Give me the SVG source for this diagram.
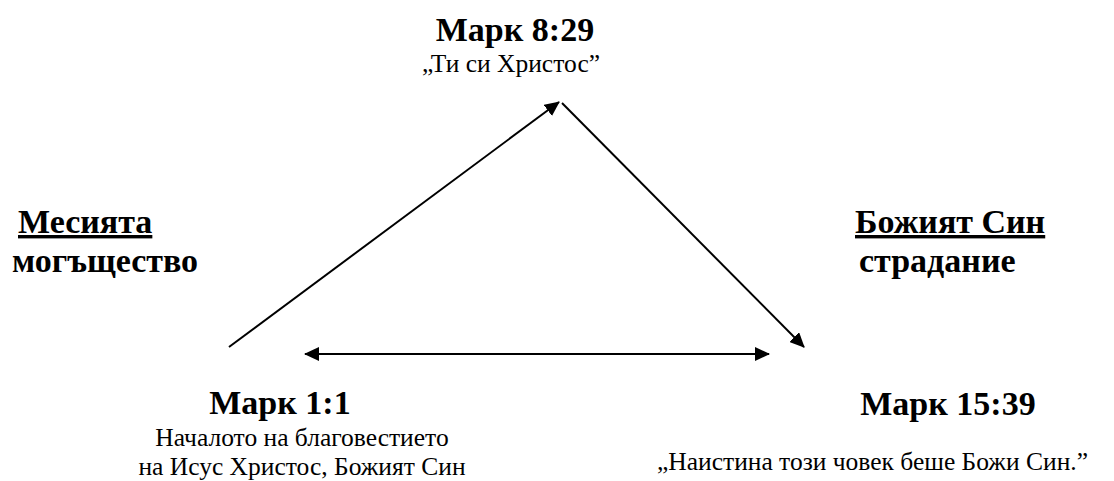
<svg xmlns="http://www.w3.org/2000/svg" width="1114" height="481" viewBox="0 0 1114 481">
<style>
.b{font-family:"Liberation Serif","Times New Roman",serif;font-weight:bold;font-size:34px;fill:#000}
.r{font-family:"Liberation Serif","Times New Roman",serif;font-size:25.5px;fill:#000}
.u{text-decoration:underline}
.ln{stroke:#000;stroke-width:2;fill:none}
</style>
<defs>
<marker id="ah" viewBox="0 0 15 14" refX="14" refY="7" markerWidth="15" markerHeight="14" markerUnits="userSpaceOnUse" orient="auto-start-reverse">
<path d="M0,0 L15,7 L0,14 Z" fill="#000"/>
</marker>
</defs>
<rect width="1114" height="481" fill="#fff"/>
<g id="connectors">
<line class="ln" x1="229" y1="347" x2="559" y2="102" marker-end="url(#ah)"/>
<line class="ln" x1="562" y1="103" x2="804" y2="347" marker-end="url(#ah)"/>
<line class="ln" x1="305" y1="354" x2="769" y2="354" marker-start="url(#ah)" marker-end="url(#ah)"/>
</g>
<g id="node-mark829">
<text class="b" x="515" y="41" text-anchor="middle">Марк 8:29</text>
<text class="r" x="511" y="72" text-anchor="middle">„Ти си Христос”</text>
</g>
<g id="node-messiah">
<text class="b u" x="18" y="233">Месията</text>
<text class="b" x="12" y="272">могъщество</text>
</g>
<g id="node-son">
<text class="b u" x="855" y="233">Божият Син</text>
<text class="b" x="859" y="272">страдание</text>
</g>
<g id="node-mark11">
<text class="b" x="280" y="414" text-anchor="middle">Марк 1:1</text>
<text class="r" x="302" y="446" text-anchor="middle">Началото на благовестието</text>
<text class="r" x="302" y="475" text-anchor="middle">на Исус Христос, Божият Син</text>
</g>
<g id="node-mark1539">
<text class="b" x="948" y="415" text-anchor="middle">Марк 15:39</text>
<text class="r" x="1088" y="470" text-anchor="end">„Наистина този човек беше Божи Син.”</text>
</g>
</svg>
